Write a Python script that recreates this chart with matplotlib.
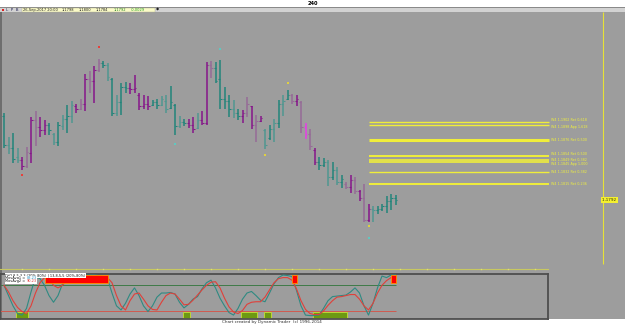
import matplotlib.pyplot as plt
import matplotlib.patches as mpatches
import numpy as np

W, H = 625, 324

# ---- price bars (240 min)
highs = [1.1915, 1.1881, 1.1887, 1.1865, 1.1852, 1.1867, 1.1909, 1.1917, 1.1909, 1.1905,
         1.1901, 1.1886, 1.1902, 1.1912, 1.1926, 1.1931, 1.1927, 1.1935, 1.1970, 1.1974,
         1.1981, 1.1991, 1.1988, 1.1985, 1.1964, 1.1940, 1.1957, 1.1959, 1.1957, 1.1968,
         1.1943, 1.1940, 1.1938, 1.1933, 1.1934, 1.1938, 1.1940, 1.1953, 1.1928, 1.1911,
         1.1906, 1.1906, 1.1909, 1.1914, 1.1917, 1.1987, 1.1988, 1.1987, 1.1989, 1.1952,
         1.1940, 1.1933, 1.1920, 1.1919, 1.1937, 1.1924, 1.1912, 1.1911, 1.1892, 1.1898,
         1.1906, 1.1933, 1.1940, 1.1947, 1.1942, 1.1940, 1.1932, 1.1900, 1.1892, 1.1865,
         1.1852, 1.1851, 1.1848, 1.1846, 1.1838, 1.1827, 1.1818, 1.1827, 1.1825, 1.1806,
         1.1815, 1.1787, 1.1783, 1.1783, 1.1787, 1.1797, 1.1801, 1.1799]
lows = [1.1865, 1.1857, 1.1844, 1.1844, 1.1835, 1.1837, 1.1844, 1.1868, 1.1881, 1.1884,
        1.1884, 1.1870, 1.1868, 1.1891, 1.1886, 1.1901, 1.1915, 1.1919, 1.1918, 1.1943,
        1.1929, 1.1972, 1.1978, 1.1960, 1.1911, 1.1911, 1.1912, 1.1943, 1.1942, 1.1943,
        1.1919, 1.1921, 1.1919, 1.1924, 1.1921, 1.1924, 1.1914, 1.1921, 1.1884, 1.1893,
        1.1896, 1.1893, 1.1887, 1.1892, 1.1898, 1.1898, 1.1964, 1.1957, 1.1921, 1.1921,
        1.1909, 1.1907, 1.1905, 1.1901, 1.1909, 1.1892, 1.1874, 1.1902, 1.1864, 1.1876,
        1.1874, 1.1893, 1.1911, 1.1933, 1.1927, 1.1925, 1.1886, 1.1878, 1.1863, 1.1841,
        1.1835, 1.1838, 1.1812, 1.1820, 1.1813, 1.1809, 1.1807, 1.1802, 1.1801, 1.1790,
        1.1761, 1.1761, 1.1761, 1.1772, 1.1776, 1.1773, 1.1778, 1.1785]
opens = [1.1910, 1.1870, 1.1866, 1.1852, 1.1848, 1.1840, 1.1858, 1.1905, 1.1895, 1.1890,
         1.1898, 1.1885, 1.1874, 1.1897, 1.1906, 1.1910, 1.1925, 1.1920, 1.1928, 1.1962,
         1.1960, 1.1976, 1.1985, 1.1982, 1.1962, 1.1915, 1.1930, 1.1952, 1.1950, 1.1948,
         1.1940, 1.1925, 1.1928, 1.1926, 1.1930, 1.1926, 1.1932, 1.1922, 1.1926, 1.1897,
         1.1902, 1.1900, 1.1898, 1.1894, 1.1905, 1.1900, 1.1982, 1.1978, 1.1962, 1.1935,
         1.1932, 1.1920, 1.1915, 1.1910, 1.1915, 1.1924, 1.1898, 1.1904, 1.1890, 1.1880,
         1.1892, 1.1900, 1.1928, 1.1934, 1.1940, 1.1932, 1.1930, 1.1895, 1.1885, 1.1862,
         1.1845, 1.1842, 1.1846, 1.1825, 1.1834, 1.1818, 1.1815, 1.1810, 1.1820, 1.1805,
         1.1795, 1.1764, 1.1780, 1.1778, 1.1780, 1.1784, 1.1790, 1.1795]
closes = [1.1870, 1.1866, 1.1850, 1.1848, 1.1840, 1.1860, 1.1905, 1.1895, 1.1890, 1.1898,
          1.1890, 1.1874, 1.1898, 1.1906, 1.1910, 1.1926, 1.1920, 1.1928, 1.1962, 1.1960,
          1.1976, 1.1985, 1.1982, 1.1965, 1.1915, 1.1930, 1.1952, 1.1950, 1.1948, 1.1950,
          1.1925, 1.1928, 1.1924, 1.1930, 1.1926, 1.1934, 1.1920, 1.1930, 1.1897, 1.1902,
          1.1900, 1.1898, 1.1892, 1.1905, 1.1900, 1.1982, 1.1978, 1.1960, 1.1935, 1.1932,
          1.1920, 1.1915, 1.1910, 1.1915, 1.1928, 1.1898, 1.1904, 1.1908, 1.1870, 1.1892,
          1.1900, 1.1928, 1.1932, 1.1940, 1.1932, 1.1935, 1.1895, 1.1885, 1.1868, 1.1845,
          1.1842, 1.1846, 1.1825, 1.1835, 1.1818, 1.1822, 1.1810, 1.1820, 1.1805, 1.1795,
          1.1764, 1.1780, 1.1778, 1.1780, 1.1784, 1.1790, 1.1795, 1.1792]
# bar state: T/t = teal (strong/faded), P/p = purple (strong/faded), M = magenta
bar_state = ("TtTtPpPpPPTtTtTtPpPpPpTtTtTTPPPPPTTttTTtTPPtPPpTTTTtTPpPpPtTtTtTpPpMpPTTtTtTpPpPpPtTTTTT")

# ---- pivot markers (bar index, price, kind)
pivot_bar = [21, 4, 48, 38, 63, 58, 81, 81]
pivot_price = [1.2008, 1.1827, 1.2005, 1.1871, 1.1957, 1.1855, 1.1755, 1.1738]
pivot_kind = ["r", "r", "c", "c", "y", "y", "y", "c"]

# ---- W4 retracement / projection levels
fib_price = [1.1902, 1.1898, 1.1876, 1.1854, 1.1848, 1.1845, 1.1832, 1.1815]
fib_label = ["W4 1,1902 Ret 0,618", "W4 1,1898 App 1,618", "W4 1,1876 Ret 0,500",
             "W4 1,1854 Ret 0,500", "W4 1,1849 Ret 0,382", "W4 1,1845 App 1,000",
             "W4 1,1832 Ret 0,382", "W4 1,1815 Ret 0,236"]
fib_width = [1.0, 1.0, 2.2, 1.4, 1.2, 1.2, 1.0, 1.4]
fib_valign = ["bottom", "top", "center", "bottom", "center", "top", "center", "center"]
fib_start, fib_end = 81, 121
time_bar = 133
last_price = 1.1792

# ---- header quote
quote_date = "26-Sep-2017 20:00"
quote_ohlc = ["1,1798", "1,1800", "1,1784", "1,1792"]
quote_change = "-0,0029"

# ---- DT oscillator
osc_fast = [75, 55, 35, 20, 17, 30, 62, 91, 88, 75, 55, 42, 55, 78, 89, 92, 90, 92, 94, 95,
            95, 94, 92, 88, 60, 35, 27, 40, 58, 70, 55, 35, 24, 35, 52, 60, 60, 61, 58, 42,
            31, 38, 48, 53, 68, 80, 85, 70, 50, 35, 22, 17, 30, 48, 60, 63, 55, 46, 43, 60,
            78, 90, 95, 94, 92, 65, 35, 17, 16, 16, 17, 30, 45, 53, 54, 55, 56, 62, 70, 60,
            35, 17, 40, 70, 93, 90, 95, 95]
osc_slow = [75, 62, 45, 32, 24, 20, 35, 60, 80, 90, 88, 75, 70, 75, 85, 90, 91, 92, 92, 93,
            93, 93, 92, 90, 80, 55, 35, 27, 45, 58, 60, 48, 35, 28, 27, 42, 55, 60, 58, 48,
            37, 38, 46, 56, 66, 75, 81, 82, 70, 50, 33, 23, 20, 26, 38, 42, 43, 43, 52, 66,
            80, 88, 90, 90, 85, 68, 45, 28, 20, 18, 18, 25, 36, 45, 52, 53, 55, 57, 57, 48,
            35, 27, 40, 60, 75, 84, 90, 92]
osc_hi, osc_lo = 75, 25
ob_zones = [(9, 23), (64, 65), (86, 87)]
os_zones = [(3, 5), (40, 41), (53, 56), (58, 59), (69, 76)]

state_col = {"T": "#22857b", "t": "#509790", "P": "#86168a", "p": "#966b97", "M": "#e63ee6"}
pivot_col = {"r": "#e8403a", "c": "#5fc8c0", "y": "#e0d040"}


def px_box(x0, y0, x1, y1):
    return [x0 / W, 1 - y1 / H, (x1 - x0) / W, (y1 - y0) / H]


fig = plt.figure(figsize=(W / 100, H / 100), dpi=100)
fig.patch.set_facecolor("white")

# background / frame in pixel coordinates
bg = fig.add_axes([0, 0, 1, 1])
bg.set_xlim(0, W)
bg.set_ylim(H, 0)
bg.axis("off")
bg.add_patch(mpatches.Rectangle((0, 12), W, 307, color="#9d9d9d", lw=0))
bg.add_patch(mpatches.Rectangle((0, 6.5), W, 1.5, color="#8a8a8a", lw=0))
bg.add_patch(mpatches.Rectangle((0, 8), W, 4, color="#d2d2d2", lw=0))
bg.add_patch(mpatches.Rectangle((0, 12), 1.5, 307, color="#6e6e6e", lw=0))
bg.text(313, 3.6, "240", fontsize=3.6, fontweight="bold", ha="center", va="center")
bg.add_patch(mpatches.Rectangle((1.5, 8.6), 2.2, 2.6, color="#e02020", lw=0))
bg.text(6, 9.9, "L  P  B", fontsize=3, color="#303060", va="center")
bg.add_patch(mpatches.Rectangle((22, 8.3), 133, 3.4, facecolor="#fbfbc8", edgecolor="#b0b090", lw=0.3))
bg.text(23, 9.9, quote_date, fontsize=2.6, color="#202020", va="center")
for xq, q in zip([62, 79, 96], quote_ohlc[:3]):
    bg.text(xq, 9.9, q, fontsize=2.6, color="#202020", va="center")
bg.text(114, 9.9, quote_ohlc[3], fontsize=2.6, color="#208020", va="center")
bg.text(131, 9.9, quote_change, fontsize=2.6, color="#20a020", va="center")
bg.text(158, 9.9, "\u25c6", fontsize=3, color="#202020", va="center", ha="center")
bg.text(272, 321.6, "Chart created by Dynamic Trader  (c) 1996-2014", fontsize=3,
        color="#303030", ha="center", va="center")

# day separators on the time line
sep_x = 4 + 4.5 * np.arange(4, 121, 6)
bg.plot([0, 548], [268.5, 268.5], color="#c8c860", lw=0.8)
bg.plot(sep_x, np.full(len(sep_x), 268.5), "s", ms=1.0, color="#e0e070", mew=0)

# ---- main price panel
ax = fig.add_axes(px_box(0, 12, W, 268))
ax.set_facecolor("none")
ax.set_xlim(-4 / 4.5, (W - 4) / 4.5)
ax.set_ylim(1.16961, 1.20571)
ax.axis("off")

xb = np.arange(len(highs))
cols = [state_col[s] for s in bar_state]
ax.vlines(xb, lows, highs, colors=cols, lw=1.1)
ax.hlines(opens, xb - 0.38, xb, colors=cols, lw=0.75)
ax.hlines(closes, xb, xb + 0.38, colors=cols, lw=0.75)

for b, p, k in zip(pivot_bar, pivot_price, pivot_kind):
    ax.plot(b, p, "s", ms=1.8, color=pivot_col[k], mew=0)

for p, lab, w, va in zip(fib_price, fib_label, fib_width, fib_valign):
    ax.hlines(p, fib_start, fib_end, colors="#f0ee3a", lw=w)
    ax.text(fib_end + 0.5, p, lab, fontsize=2.4, color="#eeee40", va=va, ha="left")

ax.vlines(time_bar, 1.1702, 1.20571, colors="#e6e236", lw=0.8)
ax.text(time_bar - 0.2, last_price, "1,1792 ", fontsize=3, color="#303000", va="center",
        ha="left", bbox=dict(boxstyle="square,pad=0.15", fc="#f4f030", ec="#f4f030", lw=0))

# ---- oscillator panel
ox = fig.add_axes(px_box(0, 274, 548, 319))
ox.set_facecolor("none")
ox.set_xlim(-4 / 4.5, 544 / 4.5)
ox.set_ylim(9.4, 97)
ox.set_xticks([])
ox.set_yticks([])
for s in ox.spines.values():
    s.set_color("#4e4e4e")
    s.set_linewidth(1.3)

xo = np.arange(len(osc_fast))
for a, b in os_zones:
    ox.add_patch(mpatches.Rectangle((a - 0.3, 10.5), b - a + 0.6, 13.5, facecolor="#6d9a12",
                                    edgecolor="#c6e030", lw=0.6, zorder=1))
ox.hlines(osc_hi, -1, xo[-1], colors="#3f7a48", lw=0.7, zorder=2)
ox.hlines(osc_lo, -1, xo[-1], colors="#d05a50", lw=0.7, zorder=2)
ox.plot(xo, osc_fast, color="#2f8a82", lw=0.8, zorder=3)
ox.plot(xo, osc_slow, color="#e0403a", lw=0.8, zorder=3)
for a, b in ob_zones:
    ox.add_patch(mpatches.Rectangle((a, 80), b - a, 15, facecolor="#ff0000",
                                    edgecolor="#ff9000", lw=0.6, zorder=4))

box = dict(boxstyle="square,pad=0.1", fc="white", ec="none")
ox.text(0.3, 94.5, "DtO 8,5,3,3 (20%-80%) | 13,8,5,5 (20%-80%)", fontsize=2.5,
        color="#101010", va="center", ha="left", zorder=6, bbox=box)
ox.text(0.3, 88.5, "MovAvg1 = ", fontsize=2.5, color="#101010", va="center", ha="left",
        zorder=6, bbox=box)
ox.text(5.0, 88.5, "88,23", fontsize=2.5, color="#2090c0", va="center", ha="left", zorder=6,
        bbox=box)
ox.text(0.3, 82.5, "MovAvg2 = ", fontsize=2.5, color="#101010", va="center", ha="left",
        zorder=6, bbox=box)
ox.text(5.0, 82.5, "90,23", fontsize=2.5, color="#e03030", va="center", ha="left", zorder=6,
        bbox=box)

fig.savefig("out.png", dpi=100, facecolor=fig.get_facecolor())
